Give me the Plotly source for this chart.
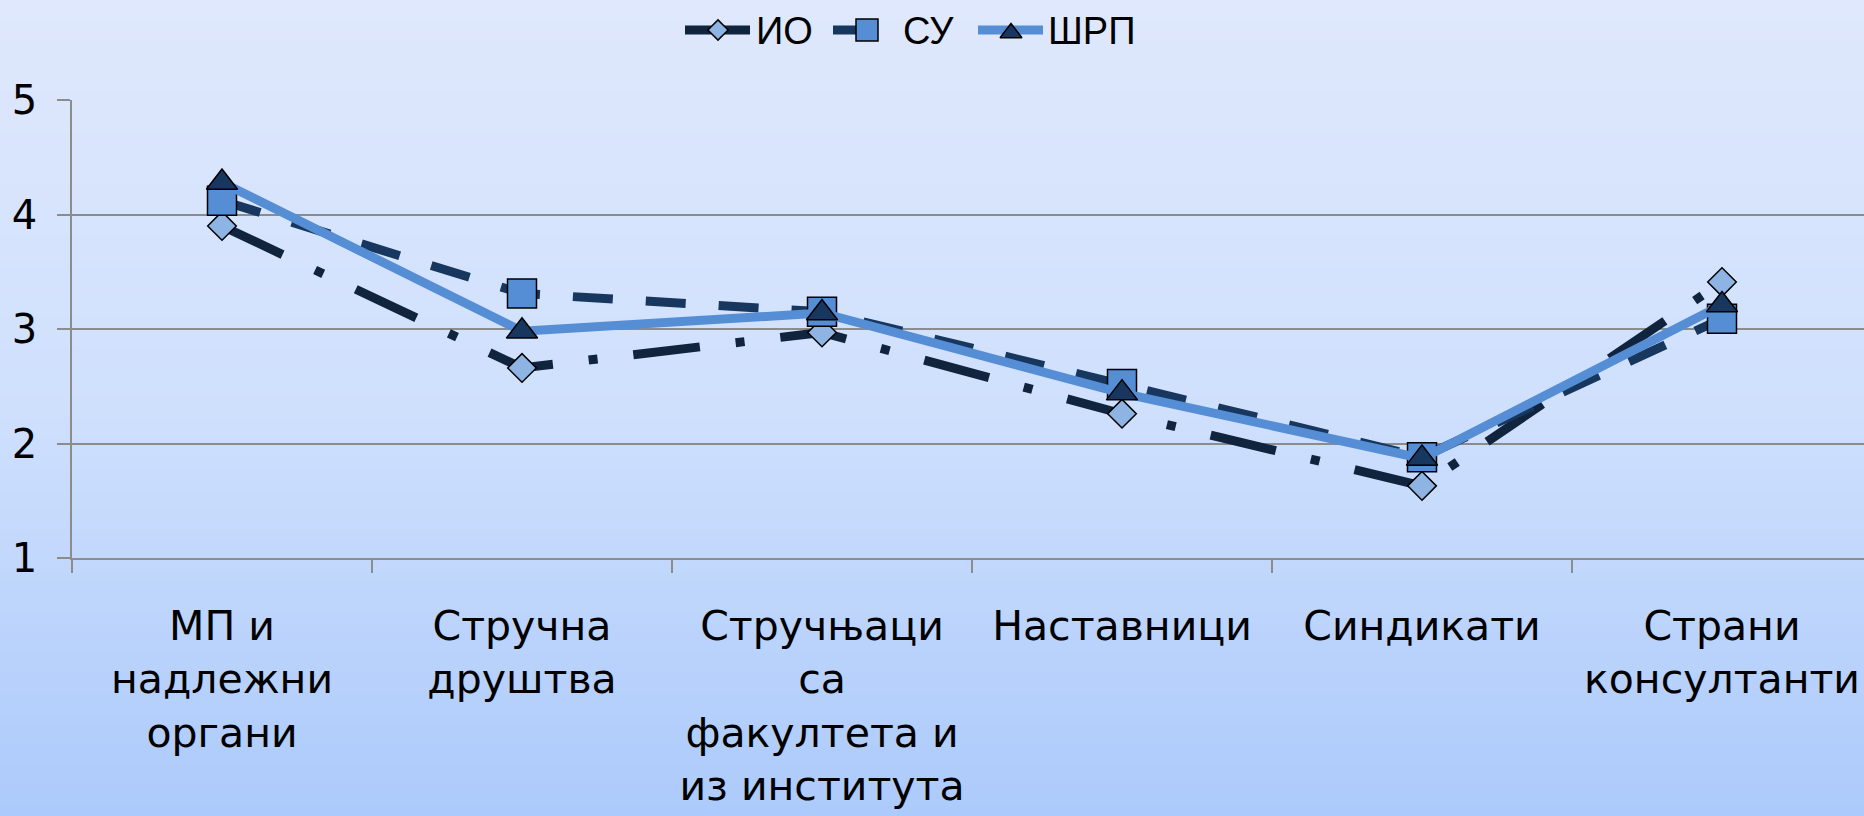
import plotly.graph_objects as go

# ---------------- data ----------------
categories = [
    "МП и<br>надлежни<br>органи",
    "Стручна<br>друштва",
    "Стручњаци<br>са<br>факултета и<br>из института",
    "Наставници",
    "Синдикати",
    "Страни<br>консултанти",
]
series_names = ["ИО", "СУ", "ШРП"]
io_values = [3.90, 2.66, 2.97, 2.26, 1.63, 3.41]
su_values = [4.12, 3.31, 3.15, 2.52, 1.88, 3.09]
srp_values = [4.28, 2.98, 3.14, 2.44, 1.87, 3.21]
y_ticks = [1, 2, 3, 4, 5]

# ---------------- styles ----------------
W, H = 1864, 816
PL, PR, PT, PB = 72, 1864, 100, 558   # plot area in px
GRID = "#8c8c8c"
C_IO = "#10243e"
C_SU = "#17375e"
C_SRP = "#558ed5"
F_DIAMOND = "#8db4e2"
F_SQUARE = "#558ed5"
F_TRI = "#17375e"
CAT_FONT = "DejaVu Sans"
LEG_FONT = "Liberation Sans, Arial"

styles = [
    dict(color=C_IO, width=9, dash="67px,36px,9px,36px", symbol="diamond", size=22, fill=F_DIAMOND),
    dict(color=C_SU, width=9, dash="40px,33px", symbol="square", size=29, fill=F_SQUARE),
    dict(color=C_SRP, width=9, dash="solid", symbol="triangle-up", size=27, fill=F_TRI),
]
series_values = [io_values, su_values, srp_values]

fig = go.Figure()

for name, vals, st in zip(series_names, series_values, styles):
    fig.add_trace(go.Scatter(
        x=categories, y=vals, name=name, mode="lines+markers",
        line=dict(color=st["color"], width=st["width"], dash=st["dash"]),
        marker=dict(symbol=st["symbol"], size=st["size"], color=st["fill"],
                    line=dict(color="black", width=1.5)),
        xaxis="x", yaxis="y", showlegend=False, cliponaxis=False,
    ))

# ---------------- custom legend (pixel overlay axes) ----------------
leg_y = 30
leg_items = [
    dict(line=(685, 750), mk=718, mky=30, txt=754, size=15.5),
    dict(line=(833, 872), mk=867, mky=30, txt=901, size=22),
    dict(line=(978, 1043), mk=1011, mky=33, txt=1046, size=19),
]
for name, st, it in zip(series_names, styles, leg_items):
    fig.add_trace(go.Scatter(
        x=[it["line"][0], it["line"][1]], y=[leg_y, leg_y], mode="lines",
        line=dict(color=st["color"], width=st["width"]),
        xaxis="x2", yaxis="y2", showlegend=False, hoverinfo="skip", cliponaxis=False,
    ))
    fig.add_trace(go.Scatter(
        x=[it["mk"]], y=[it["mky"]], mode="markers",
        marker=dict(symbol=st["symbol"], size=it["size"], color=st["fill"],
                    line=dict(color="black", width=1.5)),
        xaxis="x2", yaxis="y2", showlegend=False, hoverinfo="skip", cliponaxis=False,
    ))
    fig.add_annotation(x=it["txt"], y=leg_y + 1, xref="x2", yref="y2", text=name,
                       showarrow=False, xanchor="left", yanchor="middle",
                       font=dict(family=LEG_FONT, size=38, color="black"))

# ---------------- gradient background ----------------
top = (223, 232, 252)
mid = (207, 224, 253)
bot = (172, 202, 251)
N = 80
shapes = []
for i in range(N):
    t = i / (N - 1)
    if t < 0.5:
        a, b, u = top, mid, t / 0.5
    else:
        a, b, u = mid, bot, (t - 0.5) / 0.5
    c = tuple(round(a[k] + (b[k] - a[k]) * u) for k in range(3))
    y1 = 1 - i / N
    y0 = 1 - (i + 1) / N - 0.002
    shapes.append(dict(type="rect", xref="paper", yref="paper", x0=0, x1=1,
                       y0=max(y0, 0), y1=y1, fillcolor="rgb(%d,%d,%d)" % c,
                       line=dict(width=0), layer="below"))

span = (PR - PL) / 300.0
fig.update_layout(
    width=W, height=H,
    margin=dict(l=0, r=0, t=0, b=0),
    paper_bgcolor="rgb(%d,%d,%d)" % bot,
    plot_bgcolor="rgba(0,0,0,0)",
    showlegend=False,
    template="none",
    shapes=shapes,
    xaxis=dict(
        type="category", domain=[PL / W, PR / W], anchor="y",
        range=[-0.5, -0.5 + span], tickson="boundaries",
        showgrid=False, zeroline=False,
        showline=True, linecolor=GRID, linewidth=1.5,
        ticks="outside", ticklen=13, tickwidth=1.5, tickcolor=GRID,
        tickfont=dict(family=CAT_FONT, size=41, color="black"),
        tickangle=0,
        ticklabelstandoff=31, automargin=False,
    ),
    yaxis=dict(
        domain=[(H - PB) / H, (H - PT) / H], anchor="x",
        range=[1, 5], tickvals=y_ticks, ticktext=[str(v) for v in y_ticks],
        showgrid=True, gridcolor=GRID, gridwidth=1.5, zeroline=False,
        showline=True, linecolor=GRID, linewidth=1.5,
        ticks="outside", ticklen=13, tickwidth=1.5, tickcolor=GRID,
        tickfont=dict(family=CAT_FONT, size=40, color="black"),
        ticklabelstandoff=12, automargin=False,
    ),
    xaxis2=dict(domain=[0, 1], range=[0, W], visible=False, anchor="y2", fixedrange=True),
    yaxis2=dict(domain=[0, 1], range=[H, 0], visible=False, anchor="x2", fixedrange=True),
)

fig.write_html(
    "out.html",
    config={"displayModeBar": False},
    post_script="document.body.style.margin='0';document.body.style.padding='0';"
                "document.documentElement.style.overflow='hidden';",
)
